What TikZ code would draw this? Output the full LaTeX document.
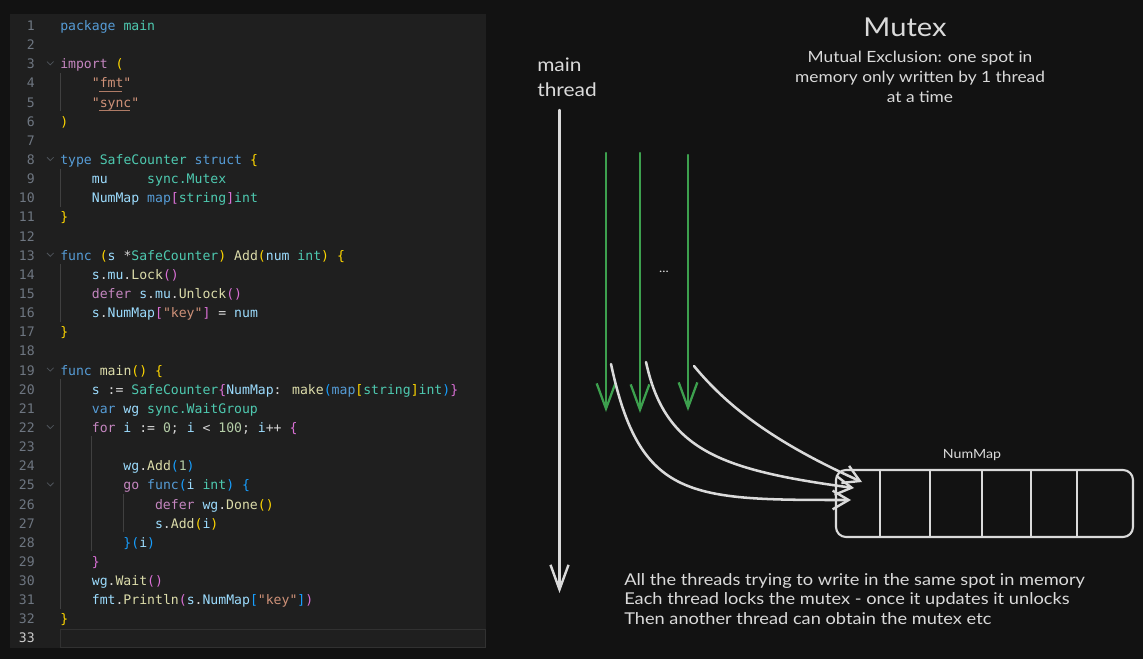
\documentclass[tikz,border=0pt]{standalone}
\usepackage{fontspec}
\usetikzlibrary{arrows.meta}
\newfontfamily\codefont{DejaVu Sans Mono}
\newfontfamily\hand[FakeStretch=1.12]{Lato}
\definecolor{bgc}{HTML}{121212}
\definecolor{panelc}{HTML}{1F1F1F}
\definecolor{ctext}{HTML}{D4D4D4}
\definecolor{clnum}{HTML}{6E7681}
\definecolor{clnact}{HTML}{CCCCCC}
\definecolor{cguide}{HTML}{404040}
\definecolor{ckw}{HTML}{569CD6}
\definecolor{cctl}{HTML}{C586C0}
\definecolor{ctype}{HTML}{4EC9B0}
\definecolor{cvar}{HTML}{9CDCFE}
\definecolor{cfn}{HTML}{DCDCAA}
\definecolor{cstr}{HTML}{CE9178}
\definecolor{cnum}{HTML}{B5CEA8}
\definecolor{cbA}{HTML}{FFD700}
\definecolor{cbB}{HTML}{DA70D6}
\definecolor{cbC}{HTML}{179FFF}
\definecolor{inkc}{HTML}{DADADA}
\definecolor{greenc}{HTML}{3DA04E}
\newcommand\kwB[1]{\textcolor{ckw}{#1}}
\newcommand\kwP[1]{\textcolor{cctl}{#1}}
\newcommand\tyT[1]{\textcolor{ctype}{#1}}
\newcommand\vaL[1]{\textcolor{cvar}{#1}}
\newcommand\fnY[1]{\textcolor{cfn}{#1}}
\newcommand\stO[1]{\textcolor{cstr}{#1}}
\newcommand\nuG[1]{\textcolor{cnum}{#1}}
\newcommand\brA[1]{\textcolor{cbA}{#1}}
\newcommand\brB[1]{\textcolor{cbB}{#1}}
\newcommand\brC[1]{\textcolor{cbC}{#1}}
\newcommand\codeline[3]{\node[codeln] (code#1) at ({60+#2*31.6},{30.5+(#1-1)*19.14}) {#3};}
\begin{document}
\begin{tikzpicture}[x=0.75pt,y=-0.75pt,
  codeln/.style={anchor=base west,inner sep=0,text=ctext,font=\codefont\fontsize{9.85pt}{12pt}\selectfont},
  lnum/.style={anchor=base east,inner sep=0,text=clnum,font=\codefont\fontsize{9.85pt}{12pt}\selectfont},
  guide/.style={draw=cguide,line width=0.75pt},
  chev/.style={draw=clnum!60!panelc,line width=0.6pt},
  ul/.style={draw=cstr!85!black,line width=0.7pt},
  handtxt/.style={text=inkc,inner sep=0},
  ink/.style={draw=inkc,line width=1.8pt,line cap=round,line join=round},
  greenarrow/.style={draw=greenc,line width=1.7pt,line cap=round,line join=round,-{Straight Barb[length=19pt,width=14pt,line width=1.7pt]}},
  mainarrow/.style={ink,-{Straight Barb[length=18.5pt,width=13.5pt,line width=1.8pt]}},
  curvearrow/.style={ink,line width=1.9pt,-{Straight Barb[length=12pt,width=14pt,line width=1.8pt]}},
  mapbox/.style={draw=inkc,line width=1.6pt,rounded corners=7.5pt,minimum width=222.75pt,minimum height=50.25pt,inner sep=0}
]
\useasboundingbox (0,0) rectangle (1143,659);
\fill[bgc] (0,0) rectangle (1143,659);
% ---------------- code panel ----------------
\fill[panelc] (10,14) rectangle (486,648);
\draw[draw=white!8!panelc,line width=0.75pt] (60.5,629.5) rectangle (485.5,647.5);
\foreach \x/\a/\b in {60.5/4/5,60.5/9/10,60.5/14/16,60.5/20/31,91.7/23/28,123/26/27}
  \draw[guide] (\x,{15.4+(\a-1)*19.14}) -- (\x,{15.4+\b*19.14});
\foreach \n in {3,8,13,19,22,25}
  \draw[chev] (47,{25+(\n-1)*19.14-1.7}) -- (50.3,{25+(\n-1)*19.14+1.6}) -- (53.6,{25+(\n-1)*19.14-1.7});
\foreach \n in {1,...,32}
  \node[lnum] (ln\n) at (35,{30.5+(\n-1)*19.14}) {\n};
\node[lnum,text=clnact] (ln33) at (35,{30.5+32*19.14}) {33};
\codeline{1}{0}{\kwB{package} \tyT{main}}
\codeline{3}{0}{\kwP{import} \brA{(}}
\codeline{4}{1}{\stO{"fmt"}}
\codeline{5}{1}{\stO{"sync"}}
\codeline{6}{0}{\brA{)}}
\codeline{8}{0}{\kwB{type} \tyT{SafeCounter} \kwB{struct} \brA{\{}}
\codeline{9}{1}{\vaL{mu}~~~~~\tyT{sync.Mutex}}
\codeline{10}{1}{\vaL{NumMap} \kwB{map}\brB{[}\tyT{string}\brB{]}\tyT{int}}
\codeline{11}{0}{\brA{\}}}
\codeline{13}{0}{\kwB{func} \brA{(}\vaL{s} *\tyT{SafeCounter}\brA{)} \fnY{Add}\brA{(}\vaL{num} \tyT{int}\brA{)} \brA{\{}}
\codeline{14}{1}{\vaL{s}.\vaL{mu}.\fnY{Lock}\brB{()}}
\codeline{15}{1}{\kwP{defer} \vaL{s}.\vaL{mu}.\fnY{Unlock}\brB{()}}
\codeline{16}{1}{\vaL{s}.\vaL{NumMap}\brB{[}\stO{"key"}\brB{]} = \vaL{num}}
\codeline{17}{0}{\brA{\}}}
\codeline{19}{0}{\kwB{func} \fnY{main}\brA{()} \brA{\{}}
\codeline{20}{1}{\vaL{s} := \tyT{SafeCounter}\brB{\{}\vaL{NumMap}: \fnY{make}\brC{(}\kwB{map}\brA{[}\tyT{string}\brA{]}\tyT{int}\brC{)}\brB{\}}}
\codeline{21}{1}{\kwB{var} \vaL{wg} \tyT{sync.WaitGroup}}
\codeline{22}{1}{\kwP{for} \vaL{i} := \nuG{0}; \vaL{i} < \nuG{100}; \vaL{i}++ \brB{\{}}
\codeline{24}{2}{\vaL{wg}.\fnY{Add}\brC{(}\nuG{1}\brC{)}}
\codeline{25}{2}{\kwP{go} \kwB{func}\brC{(}\vaL{i} \tyT{int}\brC{)} \brC{\{}}
\codeline{26}{3}{\kwP{defer} \vaL{wg}.\fnY{Done}\brA{()}}
\codeline{27}{3}{\vaL{s}.\fnY{Add}\brA{(}\vaL{i}\brA{)}}
\codeline{28}{2}{\brC{\}(}\vaL{i}\brC{)}}
\codeline{29}{1}{\brB{\}}}
\codeline{30}{1}{\vaL{wg}.\fnY{Wait}\brB{()}}
\codeline{31}{1}{\vaL{fmt}.\fnY{Println}\brB{(}\vaL{s}.\vaL{NumMap}\brC{[}\stO{"key"}\brC{]}\brB{)}}
\codeline{32}{0}{\brA{\}}}
\draw[ul] (99,91) -- (122,91);
\draw[ul] (99,110.5) -- (130,110.5);
% ---------------- diagram ----------------
\node[handtxt,font=\hand\fontsize{19.5pt}{21pt}\selectfont] (title) at (905,27) {Mutex};
\node[handtxt,align=center,font=\hand\fontsize{11.6pt}{15pt}\selectfont] (subtitle) at (920,77)
  {Mutual Exclusion: one spot in\\memory only written by 1 thread\\at a time};
\node[handtxt,anchor=north west,align=left,font=\hand\fontsize{14pt}{18.75pt}\selectfont] (mainlbl) at (537,58) {main\\thread};
\node[handtxt,font=\hand\fontsize{9pt}{10pt}\selectfont] (dots) at (664,272) {...};
\node[mapbox] (numMap) at (984.5,503.5) {};
\node[handtxt,font=\hand\fontsize{9.5pt}{11pt}\selectfont] (mapLbl) at (972,455) {NumMap};
\foreach \x in {880,930,982,1031,1077}
  \draw[draw=inkc,line width=1.4pt] (\x,{470.5}) -- (\x,{536.5});
\node[handtxt,anchor=north west,align=left,font=\hand\fontsize{12.2pt}{14.6pt}\selectfont] (note) at (624,573)
  {All the threads trying to write in the same spot in memory\\Each thread locks the mutex - once it updates it unlocks\\Then another thread can obtain the mutex etc};
% main thread
\coordinate (mtTop) at (559.5,110);
\coordinate (mtEnd) at (559.5,593);
\draw[mainarrow] (mtTop) -- (mtEnd);
% goroutines
\coordinate (g1s) at (606,153); \coordinate (g1e) at (606,412);
\coordinate (g2s) at (640,153); \coordinate (g2e) at (640,413);
\coordinate (g3s) at (688,155); \coordinate (g3e) at (688,411);
\draw[greenarrow] (g1s) -- (g1e);
\draw[greenarrow] (g2s) -- (g2e);
\draw[greenarrow] (g3s) -- (g3e);
% writes into the map
\coordinate (c1s) at (611,364); \coordinate (c1e) at (851,500);
\coordinate (c2s) at (646,362); \coordinate (c2e) at (854,488);
\coordinate (c3s) at (694,366); \coordinate (c3e) at (862,482);
\draw[curvearrow] (c1s) .. controls (640,500) and (690,500) .. (c1e);
\draw[curvearrow] (c2s) .. controls (665,450) and (720,470) .. (c2e);
\draw[curvearrow] (c3s) .. controls (730,410) and (780,445) .. (c3e);
\end{tikzpicture}
\end{document}
